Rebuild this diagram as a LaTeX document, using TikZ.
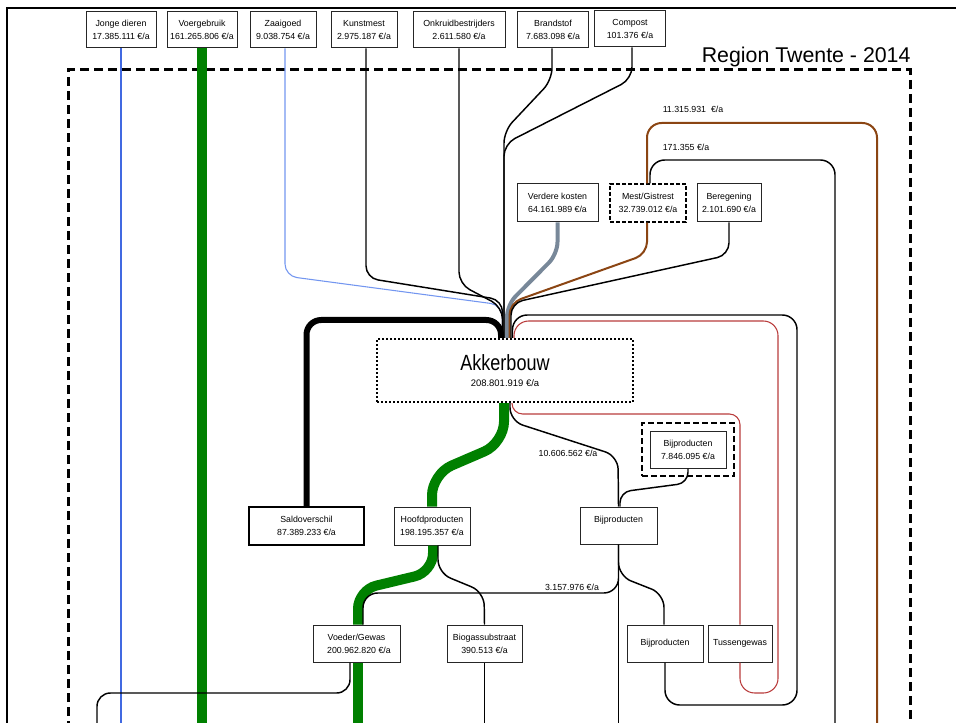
\documentclass[tikz,border=0pt]{standalone}
\usepackage{fontspec}
\setmainfont{Liberation Sans}
\newfontfamily\narrowsans[FakeStretch=0.82]{Liberation Sans}
\usetikzlibrary{fit}

\definecolor{voergreen}{RGB}{0,128,0}
\definecolor{jongeblue}{RGB}{65,105,225}
\definecolor{zaaiblue}{RGB}{115,150,240}
\definecolor{kostgrey}{RGB}{120,136,153}
\definecolor{mestbrown}{RGB}{139,69,19}
\definecolor{tussenred}{RGB}{185,60,60}

\newcommand{\boxfont}{\fontsize{6.6}{9.75}\selectfont}

\tikzset{every picture/.style={line width=0.75pt}}
\tikzset{
  box/.style={draw=black!85, fill=white, align=center, inner sep=0pt, font=\boxfont},
  lbl/.style={inner sep=0pt, font=\boxfont},
  flow/.style={draw=black, line width=1.1pt, rounded corners=9pt},
  voerline/.style={draw=voergreen, line width=7.5pt, rounded corners=16pt},
  jongeline/.style={draw=jongeblue, line width=0.8pt},
  zaailine/.style={draw=zaaiblue, line width=0.8pt, rounded corners=9pt},
  greyline/.style={draw=kostgrey, line width=3pt, rounded corners=9pt},
  brownline/.style={draw=mestbrown, line width=1.5pt, rounded corners=9pt},
  redline/.style={draw=tussenred, line width=0.8pt, rounded corners=11pt},
  saldoline/.style={draw=black, line width=4.5pt, rounded corners=11pt},
  region/.style={draw=black, line width=2.25pt, dash pattern=on 7pt off 3.5pt}
}

\begin{document}
\begin{tikzpicture}[x=0.75pt,y=0.75pt,yscale=-1,xscale=1]
\useasboundingbox (0,0) rectangle (956,723);
\coordinate (bot) at (0,730);

%Frame and region
\draw[line width=1.5pt] (7,730) -- (7,8) -- (960,8);
\draw[region] (68,730) -- (68,70) -- (910,70) -- (910,730);
\node[anchor=base east, inner sep=0pt, font=\fontsize{16}{19}\selectfont] (title) at (911,63) {Region Twente - 2014};

%Inputs
\node[box, minimum width=52.5pt, minimum height=27pt] (jonge) at (121,30) {Jonge dieren\\17.385.111 €/a};
\node[box, minimum width=52.5pt, minimum height=27pt] (voer) at (202,30) {Voergebruik\\161.265.806 €/a};
\node[box, minimum width=49.5pt, minimum height=27pt] (zaai) at (283,30) {Zaaigoed\\9.038.754 €/a};
\node[box, minimum width=49.5pt, minimum height=27pt] (kunst) at (364,30) {Kunstmest\\2.975.187 €/a};
\node[box, minimum width=69pt, minimum height=27pt] (onkruid) at (459,30) {Onkruidbestrijders\\2.611.580 €/a};
\node[box, minimum width=53.25pt, minimum height=27pt] (brand) at (553,30) {Brandstof\\7.683.098 €/a};
\node[box, minimum width=53.25pt, minimum height=27pt] (compost) at (630,29) {Compost\\101.376 €/a};

\node[box, minimum width=60.75pt, minimum height=28.5pt] (verdere) at (557.5,203) {Verdere kosten\\64.161.989 €/a};
\node[box, minimum width=57pt, minimum height=28.5pt, dash pattern=on 3pt off 1.5pt, line width=1.1pt, draw=black] (mest) at (648,203) {Mest/Gistrest\\32.739.012 €/a};
\node[box, minimum width=48pt, minimum height=28.5pt] (bereg) at (729,203) {Beregening\\2.101.690 €/a};

%Centre
\node[box, draw=black, minimum width=192pt, minimum height=47.25pt, line width=1.5pt, dash pattern=on 1.5pt off 1.5pt] (akker) at (505,370.5) {{\narrowsans\fontsize{16.5}{18}\selectfont Akkerbouw}\\[2pt]{\fontsize{7.1}{9}\selectfont 208.801.919 €/a}};

%Outputs
\node[box, draw=black, minimum width=86.25pt, minimum height=28.5pt, line width=1.5pt] (saldo) at (306.5,526) {Saldoverschil\\87.389.233 €/a};
\node[box, minimum width=57pt, minimum height=28.5pt] (hoofd) at (432,526) {Hoofdproducten\\198.195.357 €/a};
\node[box, minimum width=57.75pt, minimum height=27.75pt] (bijmid) at (618.5,525.5) {Bijproducten\\\mbox{}};
\node[box, minimum width=57pt, minimum height=27.75pt] (bijin) at (688,449.5) {Bijproducten\\7.846.095 €/a};
\node[draw=black, line width=1.5pt, dash pattern=on 4.5pt off 2.25pt, inner sep=5.6pt, fit=(bijin)] (bijfit) {};
\node[box, minimum width=65.25pt, minimum height=27.75pt] (voeder) at (356.5,643.5) {Voeder/Gewas\\\ \ 200.962.820 €/a};
\node[box, minimum width=56.25pt, minimum height=27.75pt] (biogas) at (484.5,643.5) {Biogassubstraat\\390.513 €/a};
\node[box, minimum width=57pt, minimum height=27.75pt] (bijbot) at (665,643.5) {Bijproducten};
\node[box, minimum width=48pt, minimum height=27.75pt] (tussen) at (740,643.5) {Tussengewas};

%Straight inputs
\draw[jongeline] (jonge.south) -- (jonge.south |- bot);
\draw[voerline] (voer.south) -- (voer.south |- bot);

%Fan into Akkerbouw
\draw[zaailine] ([xshift=1.5pt]zaai.south) -- (285,276) -- (502.5,305) -- ([xshift=-1.875pt]akker.north);
\draw[flow] ([xshift=1.5pt]kunst.south) -- (366,278) -- (502.5,300) -- ([xshift=-1.875pt]akker.north);
\draw[flow] (onkruid.south) -- (459,284) -- (502.5,307) -- ([xshift=-1.875pt]akker.north);
\draw[flow] ([xshift=-0.75pt]brand.south) -- (552,80) -- (504,131) -- ([xshift=-0.75pt]akker.north);
\draw[flow] ([xshift=1.5pt]compost.south) -- (632,79) -- (504,144) -- ([xshift=-0.75pt]akker.north);
\draw[greyline] (verdere.south) -- (557.5,254) -- (507,305) -- ([xshift=1.5pt]akker.north);
\draw[brownline] ([xshift=-0.75pt]mest.south) -- (647,254) -- (509.5,303) -- ([xshift=3.375pt]akker.north);
\draw[flow] (bereg.south) -- (729,255) -- (511,303) -- ([xshift=4.5pt]akker.north);

%Loops from Mest/Gistrest
\draw[brownline, rounded corners=11pt] ([xshift=-0.75pt]mest.north) -- (647,123) -- (877,123) -- (bot -| 877,0);
\draw[flow, rounded corners=11pt] ([xshift=1.5pt]mest.north) -- (650,160) -- (835,160) -- (bot -| 835,0);
\node[lbl] (lbrown) at (693,109) {11.315.931\ \ €/a};
\node[lbl] (lblack) at (686,147) {171.355 €/a};

%Saldo
\draw[saldoline] ([xshift=-3pt]akker.north) -- (501,320) -- (306.5,320) -- (saldo.north);

%Loops back into Akkerbouw
\draw[flow, rounded corners=11pt] ([xshift=5.625pt]akker.north) -- (512.5,315) -- (797,315) -- (797,705) -- (665,705) -- (bijbot.south);
\draw[redline] ([xshift=6.75pt]akker.north) -- (514,321) -- (778,321) -- (778,693) -- (740,693) -- (tussen.south);
\draw[redline, rounded corners=8pt] ([xshift=5.25pt]akker.south) -- (512,414) -- (740,414) -- (tussen.north);

%Main products
\draw[voerline] ([xshift=-0.75pt]akker.south) -- (504,443) -- (432,474) -- (hoofd.north);
\draw[voerline, rounded corners=14pt] ([xshift=0.75pt]hoofd.south) -- (433,572) -- (358,590) -- ([xshift=1.125pt]voeder.north);
\draw[voerline] ([xshift=1.125pt]voeder.south) -- (bot -| 358,0);
\draw[flow, rounded corners=10pt] ([xshift=4.5pt]hoofd.south) -- (438,573) -- (484,592) -- (biogas.north);
\draw[flow] (biogas.south) -- (biogas.south |- bot);
\draw[flow, rounded corners=10pt] ([xshift=-4.875pt]voeder.south) -- (350,693) -- (97,693) -- (bot -| 97,0);

%By-products
\draw[flow, rounded corners=10pt] ([xshift=3.75pt]akker.south) -- (510,421) -- (618,456) -- (bijmid.north);
\node[lbl] (l10) at (568,453) {10.606.562 €/a};
\draw[flow, rounded corners=8pt] (bijin.south) -- (688,483) -- (620,492) -- ([xshift=1.125pt]bijmid.north);
\draw[flow, rounded corners=11pt] (bijmid.south) -- (618.5,593) -- (363,593) -- ([xshift=4.875pt]voeder.north);
\node[lbl] (l3) at (572,587) {3.157.976 €/a};
\draw[flow, rounded corners=10pt] (bijmid.south) -- (618.5,576) -- (664,594) -- ([xshift=-0.75pt]bijbot.north);
\draw[flow] (bijmid.south) -- (bijmid.south |- bot);

\end{tikzpicture}
\end{document}
